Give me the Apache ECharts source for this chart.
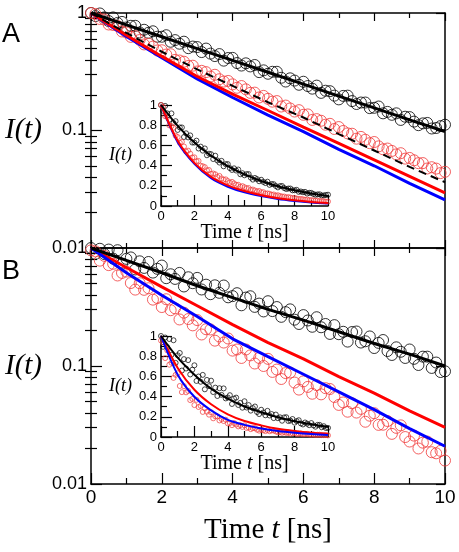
<!DOCTYPE html>
<html><head><meta charset="utf-8">
<script src="https://cdn.jsdelivr.net/npm/echarts@6/dist/echarts.min.js"></script>
<style>html,body{margin:0;padding:0;background:#fff}#c{width:459px;height:552px}</style>
</head><body><div id="c"></div>
<script>
// ---------- data ----------
const times = [0,0.125,0.25,0.375,0.5,0.625,0.75,0.875,1,1.125,1.25,1.375,1.5,1.625,1.75,1.875,2,2.125,2.25,2.375,2.5,2.625,2.75,2.875,3,3.125,3.25,3.375,3.5,3.625,3.75,3.875,4,4.125,4.25,4.375,4.5,4.625,4.75,4.875,5,5.125,5.25,5.375,5.5,5.625,5.75,5.875,6,6.125,6.25,6.375,6.5,6.625,6.75,6.875,7,7.125,7.25,7.375,7.5,7.625,7.75,7.875,8,8.125,8.25,8.375,8.5,8.625,8.75,8.875,9,9.125,9.25,9.375,9.5,9.625,9.75,9.875,10];
const fitTimes = [0,1,2,3,4,5,6,7,8,9,10];

const aBlackCircles = [1.000,0.942,0.991,0.917,0.854,0.917,0.823,0.840,0.753,0.778,
0.778,0.683,0.720,0.679,0.699,0.628,0.628,0.647,0.569,0.588,
0.548,0.570,0.502,0.518,0.513,0.465,0.498,0.451,0.430,0.447,
0.393,0.414,0.415,0.375,0.357,0.373,0.351,0.361,0.314,0.325,
0.304,0.316,0.316,0.281,0.261,0.278,0.266,0.245,0.260,0.239,
0.227,0.241,0.209,0.218,0.216,0.198,0.184,0.197,0.198,0.178,
0.168,0.173,0.173,0.155,0.156,0.160,0.140,0.144,0.136,0.140,
0.123,0.131,0.130,0.119,0.111,0.115,0.116,0.104,0.105,0.109,
0.112];
const aRedCircles = [1.000,0.981,0.889,0.881,0.798,0.791,0.775,0.696,0.683,0.626,
0.635,0.589,0.540,0.548,0.518,0.480,0.482,0.443,0.446,0.399,
0.394,0.385,0.354,0.356,0.318,0.322,0.314,0.288,0.298,0.273,
0.261,0.264,0.247,0.231,0.239,0.224,0.209,0.210,0.191,0.197,
0.186,0.176,0.178,0.160,0.163,0.154,0.145,0.149,0.136,0.137,
0.123,0.125,0.121,0.112,0.114,0.103,0.107,0.0991,0.0945,0.0939,
0.0852,0.0882,0.0834,0.0780,0.0798,0.0733,0.0692,0.0702,0.0670,0.0626,
0.0641,0.0576,0.0584,0.0558,0.0527,0.0528,0.0475,0.0487,0.0474,0.0434,
0.0445];
const aBlackFit  = [1,0.793,0.628,0.498,0.395,0.313,0.248,0.196,0.156,0.123,0.098];
const aRedFit    = [1,0.646,0.427,0.288,0.204,0.148,0.107,0.0776,0.0562,0.0407,0.0295];
const aBlueFit   = [1,0.631,0.417,0.275,0.191,0.135,0.0977,0.0692,0.0501,0.0355,0.0257];
const aDashedFit = [1,0.676,0.468,0.331,0.240,0.174,0.129,0.0933,0.0676,0.0490,0.0363];

const bBlackCircles = [1.000,0.893,0.985,0.889,0.970,0.813,0.958,0.734,0.809,0.832,
0.658,0.771,0.678,0.761,0.619,0.666,0.710,0.555,0.599,0.547,
0.615,0.472,0.565,0.503,0.558,0.445,0.489,0.406,0.483,0.417,
0.481,0.382,0.391,0.414,0.327,0.380,0.390,0.317,0.338,0.290,
0.354,0.292,0.316,0.261,0.286,0.302,0.247,0.227,0.270,0.243,
0.215,0.259,0.213,0.227,0.187,0.222,0.186,0.195,0.161,0.194,
0.196,0.158,0.162,0.178,0.142,0.157,0.166,0.134,0.124,0.144,
0.132,0.117,0.138,0.115,0.102,0.120,0.120,0.0963,0.107,0.0889,
0.0902];
const bRedCircles = [0.955,0.936,0.781,0.858,0.716,0.735,0.585,0.615,0.631,0.505,
0.444,0.503,0.442,0.456,0.365,0.377,0.316,0.368,0.297,0.308,
0.248,0.283,0.250,0.221,0.245,0.185,0.205,0.204,0.164,0.178,
0.158,0.171,0.135,0.138,0.117,0.138,0.123,0.105,0.117,0.100,
0.115,0.0891,0.0933,0.0776,0.0871,0.0880,0.0724,0.0631,0.0741,0.0665,
0.0582,0.0688,0.0575,0.0649,0.0638,0.0546,0.0468,0.0491,0.0410,0.0483,
0.0403,0.0433,0.0337,0.0379,0.0398,0.0317,0.0318,0.0342,0.0266,0.0299,
0.0314,0.0250,0.0229,0.0257,0.0200,0.0224,0.0229,0.0186,0.0182,0.0191,
0.0158];
const bBlackFit = [1,0.785,0.617,0.479,0.380,0.302,0.245,0.195,0.155,0.126,0.100];
const bRedFit   = [1,0.684,0.468,0.324,0.224,0.158,0.115,0.0813,0.0589,0.0417,0.0302];
const bBlueFit  = [1,0.617,0.398,0.263,0.170,0.120,0.0851,0.0603,0.0427,0.0295,0.0209];

const logMinorTicks = [0.02,0.03,0.04,0.05,0.06,0.07,0.08,0.09,0.2,0.3,0.4,0.5,0.6,0.7,0.8,0.9];
const panelLetters = ['A','B'];

// ---------- build ----------
const SANS = '"Liberation Sans", Arial, Helvetica, sans-serif';
const SERIF = '"Liberation Serif", "Times New Roman", serif';
const BLACK = '#000000', RED = '#ff0000', RED_C = '#f03a3a', BLUE = '#0000ff';
const pair = (xs, ys) => xs.map((x, i) => [x, ys[i]]);
const axisLine = {show:true, onZero:false, lineStyle:{color:BLACK, width:1.5}};
const tickStyle = {color:BLACK, width:1.2};

function xMain(grid, pos, showLabels, maj, min) {
  return {type:'value', gridIndex:grid, position:pos, min:0, max:10, interval:2,
    axisLine, axisTick:{show:true, inside:true, length:maj, lineStyle:tickStyle},
    minorTick:{show:true, splitNumber:2, length:min, lineStyle:tickStyle},
    axisLabel:{show:showLabels, margin:4, fontSize:19, color:BLACK, fontFamily:SANS},
    splitLine:{show:false}, minorSplitLine:{show:false},
    name: showLabels ? 'Time {i|t} [ns]' : '', nameLocation:'middle', nameGap:32, nameMoveOverlap:false,
    nameTextStyle:{fontFamily:SERIF, fontSize:29, color:BLACK, rich:{i:{fontFamily:SERIF, fontSize:29, fontStyle:'italic', color:BLACK}}}};
}
function yLog(grid, pos, showLabels, hideMax, len, named) {
  return {type:'log', logBase:10, gridIndex:grid, position:pos, min:0.01, max:1,
    axisLine, axisTick:{show:true, inside:true, length:len, lineStyle:tickStyle},
    axisLabel:{show:showLabels, showMaxLabel:!hideMax, margin:4, fontSize:18, color:BLACK, fontFamily:SANS},
    splitLine:{show:false},
    name: named ? 'I(t)' : '', nameLocation:'middle', nameGap:49, nameRotate:0, nameMoveOverlap:false,
    nameTextStyle:{fontFamily:SERIF, fontSize:29, fontStyle:'italic', color:BLACK}};
}
function yLogMinor(grid, pos, len) {
  return {type:'log', logBase:10, gridIndex:grid, position:pos, min:0.01, max:1,
    axisLine:{show:false}, axisTick:{show:true, inside:true, length:len, lineStyle:tickStyle, customValues:logMinorTicks},
    axisLabel:{show:false}, splitLine:{show:false}};
}
function xInset(grid) {
  return {type:'value', gridIndex:grid, position:'bottom', min:0, max:10, interval:2,
    axisLine, axisTick:{show:true, inside:true, length:11, lineStyle:tickStyle},
    minorTick:{show:true, splitNumber:2, length:6, lineStyle:tickStyle},
    axisLabel:{margin:4, fontSize:13, color:BLACK, fontFamily:SANS},
    splitLine:{show:false}, minorSplitLine:{show:false},
    name:'Time {i|t} [ns]', nameLocation:'middle', nameGap:17, nameMoveOverlap:false,
    nameTextStyle:{fontFamily:SERIF, fontSize:20, color:BLACK, rich:{i:{fontFamily:SERIF, fontSize:20, fontStyle:'italic', color:BLACK}}}};
}
function yInset(grid) {
  return {type:'value', gridIndex:grid, position:'left', min:0, max:1, interval:0.2,
    axisLine, axisTick:{show:true, inside:true, length:11, lineStyle:tickStyle},
    minorTick:{show:true, splitNumber:2, length:6, lineStyle:tickStyle},
    axisLabel:{margin:4, fontSize:13, color:BLACK, fontFamily:SANS},
    splitLine:{show:false}, minorSplitLine:{show:false},
    name:'I(t)', nameLocation:'middle', nameGap:29, nameRotate:0, nameMoveOverlap:false,
    nameTextStyle:{fontFamily:SERIF, fontSize:18, fontStyle:'italic', color:BLACK}};
}
function circles(xi, yi, ys, color, size, bw) {
  return {type:'scatter', xAxisIndex:xi, yAxisIndex:yi, data:pair(times, ys), symbol:'circle', symbolSize:size,
    itemStyle:{color:'rgba(0,0,0,0)', borderColor:color, borderWidth:bw}, silent:true};
}
function fit(xi, yi, ys, color, width, dashed, smooth) {
  return {type:'line', xAxisIndex:xi, yAxisIndex:yi, data:pair(fitTimes, ys), symbol:'none', showSymbol:false,
    smooth: smooth ? 0.3 : false,
    lineStyle:{color, width, type: dashed ? [8,5] : 'solid'}, silent:true};
}

const option = {
  animation:false,
  backgroundColor:'#ffffff',
  title: panelLetters.map((t, i) => ({text:t, left:2, top: i === 0 ? 21 : 258, padding:0,
    textStyle:{fontFamily:SANS, fontSize:27, fontWeight:'normal', color:BLACK}})),
  grid:[
    {left:91, top:13, width:354, height:235, outerBoundsMode:'none', containLabel:false},
    {left:91, top:248, width:354, height:236, outerBoundsMode:'none', containLabel:false},
    {left:161, top:105, width:167, height:101, outerBoundsMode:'none', containLabel:false},
    {left:161, top:336, width:167, height:101, outerBoundsMode:'none', containLabel:false}
  ],
  xAxis:[
    xMain(0,'bottom',false,8,5), xMain(0,'top',false,8,5),
    xMain(1,'bottom',true,11,6), xMain(1,'top',false,8,5),
    xInset(2), xInset(3)
  ],
  yAxis:[
    yLog(0,'left',true,false,11,true), yLogMinor(0,'left',6), yLog(0,'right',false,false,9,false), yLogMinor(0,'right',6),
    yLog(1,'left',true,true,11,true), yLogMinor(1,'left',6), yLog(1,'right',false,false,9,false), yLogMinor(1,'right',6),
    yInset(2), yInset(3)
  ],
  series:[
    // panel A main
    circles(0,0,aBlackCircles,BLACK,11,1),
    circles(0,0,aRedCircles,RED_C,11,1),
    fit(0,0,aBlueFit,BLUE,3),
    fit(0,0,aRedFit,RED,3),
    fit(0,0,aDashedFit,BLACK,2,true),
    fit(0,0,aBlackFit,BLACK,3),
    // panel B main
    circles(2,4,bBlackCircles,BLACK,11,1),
    circles(2,4,bRedCircles,RED_C,11,1),
    fit(2,4,bRedFit,RED,3),
    fit(2,4,bBlueFit,BLUE,3),
    fit(2,4,bBlackFit,BLACK,3),
    // inset A
    circles(4,8,aBlackCircles,BLACK,5,0.9),
    circles(4,8,aRedCircles,RED_C,5,0.9),
    fit(4,8,aBlueFit,BLUE,2,false,true),
    fit(4,8,aRedFit,RED,2,false,true),
    fit(4,8,aBlackFit,BLACK,2,false,true),
    // inset B
    circles(5,9,bBlackCircles,BLACK,5,0.9),
    circles(5,9,bRedCircles,RED_C,5,0.9),
    fit(5,9,bRedFit,RED,2,false,true),
    fit(5,9,bBlueFit,BLUE,2,false,true),
    fit(5,9,bBlackFit,BLACK,2,false,true)
  ]
};
const chart = echarts.init(document.getElementById('c'), null, {renderer:'canvas', width:459, height:552});
chart.setOption(option);
</script></body></html>
